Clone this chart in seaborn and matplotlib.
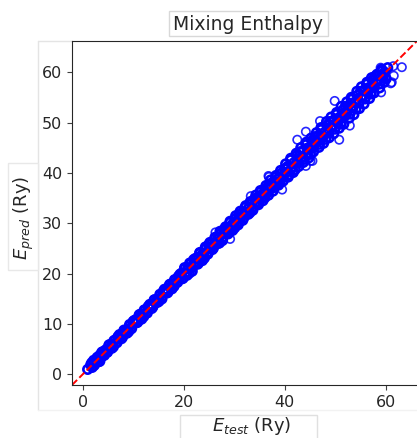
import numpy as np
import pandas as pd
import matplotlib
matplotlib.use("Agg")
import matplotlib.pyplot as plt
import seaborn as sns
from matplotlib.patches import Rectangle
from matplotlib.lines import Line2D

# test vs predicted mixing enthalpy (Ry)
# lower band (x < 20)
x_low = [1.0, 1.8, 2.3, 2.9, 3.4, 3.8, 4.3, 4.9, 5.3, 5.8, 6.2, 6.8, 7.3, 7.7, 8.2, 8.8,
         9.3, 9.7, 10.2, 10.8, 11.3, 11.7, 12.2, 12.8, 13.3, 13.7, 14.2, 14.8, 15.3, 15.7,
         16.2, 16.8, 17.3, 17.7, 18.2, 18.8, 19.3, 19.7]
y_low = [1.0, 2.3, 1.8, 3.4, 2.6, 4.4, 3.8, 4.5, 5.9, 5.2, 6.7, 6.3, 7.9, 7.1, 8.6, 8.2,
         9.9, 9.1, 10.7, 10.3, 11.9, 11.0, 12.8, 12.2, 13.9, 13.1, 14.8, 14.3, 15.9, 15.0,
         16.9, 16.2, 17.9, 17.0, 18.8, 18.3, 19.9, 19.0]

# middle band (20 - 40)
x_mid = [20.2, 20.7, 21.2, 21.7, 22.3, 22.8, 23.2, 23.7, 24.3, 24.8, 25.2, 25.7, 26.3, 26.8,
         27.2, 27.7, 28.3, 28.8, 29.2, 29.7, 30.3, 30.8, 31.2, 31.7, 32.3, 32.8, 33.2, 33.7,
         34.3, 34.8, 35.2, 35.7, 36.3, 36.8, 37.2, 37.7, 38.3, 38.8, 39.2, 39.7,
         21.0, 22.0, 23.0, 24.0, 25.0, 26.0, 27.0, 28.0, 29.0, 30.0, 31.0, 32.0, 33.0, 34.0,
         35.0, 36.0, 37.0, 38.0, 39.0]
y_mid = [21.0, 19.7, 22.1, 20.5, 23.0, 21.9, 24.1, 22.6, 25.3, 23.9, 26.2, 24.8, 27.1, 26.0,
         28.4, 26.6, 29.3, 27.9, 30.4, 28.6, 31.5, 29.7, 32.4, 30.6, 33.5, 31.8, 34.3, 32.6,
         35.6, 33.7, 36.5, 34.5, 37.5, 35.6, 38.6, 36.4, 39.5, 37.6, 40.5, 38.4,
         21.2, 21.8, 23.3, 23.8, 25.1, 25.8, 27.3, 27.9, 29.1, 29.8, 31.2, 31.9, 33.1, 33.8,
         35.3, 35.9, 37.2, 37.8, 39.1]

# upper band (40 - 60)
x_high = [40.2, 40.7, 41.2, 41.7, 42.3, 42.8, 43.2, 43.7, 44.3, 44.8, 45.2, 45.7, 46.3, 46.8,
          47.2, 47.7, 48.3, 48.8, 49.2, 49.7, 50.3, 50.8, 51.2, 51.7, 52.3, 52.8, 53.2, 53.7,
          54.3, 54.8, 55.2, 55.7, 56.3, 56.8, 57.2, 57.7, 58.3, 58.8, 59.2, 59.7,
          40.5, 41.5, 42.5, 43.5, 44.5, 45.5, 46.5, 47.5, 48.5, 49.5, 50.5, 51.5, 52.5, 53.5,
          54.5, 55.5, 56.5, 57.5, 58.5, 59.5]
y_high = [41.8, 39.2, 42.9, 40.1, 43.9, 41.3, 45.0, 42.1, 46.1, 43.0, 46.9, 44.2, 48.0, 45.1,
          49.0, 45.9, 50.2, 47.0, 51.1, 47.8, 52.0, 48.9, 53.2, 49.7, 54.1, 50.9, 55.0, 51.6,
          56.2, 52.8, 57.1, 53.7, 58.0, 54.8, 58.9, 55.9, 59.6, 56.9, 60.2, 58.0,
          40.9, 41.2, 42.8, 43.1, 44.9, 45.3, 46.7, 47.2, 48.8, 49.2, 50.7, 51.3, 52.8, 53.1,
          54.6, 55.2, 56.7, 57.3, 58.6, 59.4]

# dense core of the band
x_core = [1.6, 1.9, 2.2, 2.5, 2.8, 3.1, 3.4, 3.7, 4.0, 4.3,
          4.6, 4.9, 5.2, 5.5, 5.8, 6.1, 6.4, 6.7, 7.0, 7.3,
          7.6, 7.9, 8.2, 8.5, 8.8, 9.1, 9.4, 9.7, 10.0, 10.3,
          10.6, 10.9, 11.2, 11.5, 11.8, 12.1, 12.4, 12.7, 13.0, 13.3,
          13.6, 13.9, 14.2, 14.5, 14.8, 15.1, 15.4, 15.7, 16.0, 16.3,
          16.6, 16.9, 17.2, 17.5, 17.8, 18.1, 18.4, 18.7, 19.0, 19.3,
          19.6, 19.9, 20.2, 20.5, 20.8, 21.1, 21.4, 21.7, 22.0, 22.3,
          22.6, 22.9, 23.2, 23.5, 23.8, 24.1, 24.4, 24.7, 25.0, 25.3,
          25.6, 25.9, 26.2, 26.5, 26.8, 27.1, 27.4, 27.7, 28.0, 28.3,
          28.6, 28.9, 29.2, 29.5, 29.8, 30.1, 30.4, 30.7, 31.0, 31.3,
          31.6, 31.9, 32.2, 32.5, 32.8, 33.1, 33.4, 33.7, 34.0, 34.3,
          34.6, 34.9, 35.2, 35.5, 35.8, 36.1, 36.4, 36.7, 37.0, 37.3,
          37.6, 37.9, 38.2, 38.5, 38.8, 39.1, 39.4, 39.7, 40.0, 40.3,
          40.6, 40.9, 41.2, 41.5, 41.8, 42.1, 42.4, 42.7, 43.0, 43.3,
          43.6, 43.9, 44.2, 44.5, 44.8, 45.1, 45.4, 45.7, 46.0, 46.3,
          46.6, 46.9, 47.2, 47.5, 47.8, 48.1, 48.4, 48.7, 49.0, 49.3,
          49.6, 49.9, 50.2, 50.5, 50.8, 51.1, 51.4, 51.7, 52.0, 52.3,
          52.6, 52.9, 53.2, 53.5, 53.8, 54.1, 54.4, 54.7, 55.0, 55.3,
          55.6, 55.9, 56.2, 56.5, 56.8, 57.1, 57.4, 57.7, 58.0, 58.3,
          58.6, 58.9, 59.2, 59.5, 59.8, 60.1, 60.4]
y_core = [1.9, 1.4, 2.8, 2.3, 2.9, 2.5, 3.8, 3.4, 4.5, 4.2,
          4.9, 4.4, 5.8, 5.3, 5.9, 5.5, 6.8, 6.4, 7.5, 7.2,
          7.9, 7.4, 8.8, 8.3, 8.9, 8.5, 9.8, 9.4, 10.5, 10.2,
          10.9, 10.4, 11.8, 11.3, 11.9, 11.5, 12.8, 12.4, 13.5, 13.2,
          13.9, 13.4, 14.8, 14.3, 14.9, 14.5, 15.8, 15.4, 16.5, 16.2,
          16.9, 16.4, 17.8, 17.3, 17.9, 17.5, 18.8, 18.4, 19.5, 19.2,
          20.1, 19.1, 21.2, 20.2, 21.0, 20.1, 22.0, 21.2, 22.8, 22.1,
          23.1, 22.1, 24.2, 23.2, 24.0, 23.1, 25.0, 24.2, 25.8, 25.1,
          26.1, 25.1, 27.2, 26.2, 27.0, 26.1, 28.0, 27.2, 28.8, 28.1,
          29.1, 28.1, 30.2, 29.2, 30.0, 29.1, 31.0, 30.2, 31.8, 31.1,
          32.1, 31.1, 33.2, 32.2, 33.0, 32.1, 34.0, 33.2, 34.8, 34.1,
          35.1, 34.1, 36.2, 35.2, 36.0, 35.1, 37.0, 36.2, 37.8, 37.1,
          38.1, 37.1, 39.2, 38.2, 39.0, 38.1, 40.0, 39.2, 40.8, 40.1,
          41.3, 39.7, 42.6, 41.0, 42.0, 40.7, 43.4, 42.0, 44.2, 43.1,
          44.3, 42.7, 45.6, 44.0, 45.0, 43.7, 46.4, 45.0, 47.2, 46.1,
          47.3, 45.7, 48.6, 47.0, 48.0, 46.7, 49.4, 48.0, 50.2, 49.1,
          50.3, 48.7, 51.6, 50.0, 51.0, 49.7, 52.4, 51.0, 53.2, 52.1,
          53.3, 51.7, 54.6, 53.0, 54.0, 52.7, 55.4, 54.0, 56.2, 55.1,
          56.3, 54.7, 57.6, 56.0, 57.0, 55.7, 58.4, 57.0, 59.2, 58.1,
          59.3, 57.7, 60.6, 59.0, 60.0, 58.7, 60.9]

# scattered outliers
x_out = [63.2, 61.5, 61.6, 61.2, 61.0, 59.1, 49.9, 42.5, 50.8, 52.9, 36.9, 45.5, 47.0, 44.2,
         59.0, 57.7, 60.0, 36.8, 33.3, 26.3, 29.2, 39.5, 45.1, 44.2]
y_out = [61.0, 61.2, 59.3, 58.0, 57.8, 56.0, 54.3, 46.6, 46.6, 49.4, 39.2, 42.4, 50.3, 48.2,
         60.9, 59.2, 58.9, 39.4, 35.4, 28.2, 26.9, 36.7, 42.4, 41.4]

band = pd.DataFrame({
    "E_test": x_low + x_mid + x_high + x_core,
    "E_pred": y_low + y_mid + y_high + y_core,
})
outliers = pd.DataFrame({"E_test": x_out, "E_pred": y_out})

lims = (-2.1, 66.2)
W, H = 417, 438

sns.set_style("ticks")
fig = plt.figure(figsize=(W / 100, H / 100), dpi=100)


def px_rect(x0, y0, x1, y1, **kw):
    # rectangle given in figure pixels from the top-left corner
    return Rectangle((x0 / W, 1 - y1 / H), (x1 - x0) / W, (y1 - y0) / H,
                     transform=fig.transFigure, **kw)


# faint frame around the plotting area
frame_c = "#e4e4e4"
fig.lines.append(Line2D([38 / W, 38 / W], [1 - 41 / H, 1 - 410 / H], transform=fig.transFigure,
                        color=frame_c, linewidth=1.0, zorder=-3))
fig.lines.append(Line2D([38 / W, 72 / W], [1 - 41 / H, 1 - 41 / H], transform=fig.transFigure,
                        color=frame_c, linewidth=1.0, zorder=-3))
fig.lines.append(Line2D([38 / W, 1], [1 - 410 / H, 1 - 410 / H], transform=fig.transFigure,
                        color="#f2f2f2", linewidth=1.0, zorder=-3))

# label boxes
fig.patches.append(px_rect(169, 11, 328, 36, facecolor="white", edgecolor="#d8d8d8", linewidth=1.0, zorder=-2))
fig.patches.append(px_rect(180, 415, 317, 445, facecolor="white", edgecolor="#e0e0e0", linewidth=1.0, zorder=-2))
fig.patches.append(px_rect(8, 163, 38, 270, facecolor="white", edgecolor="#e8e8e8", linewidth=1.0, zorder=-2))

ax = fig.add_axes([72 / W, 1 - 385 / H, 1 - 72 / W, (385 - 41) / H])
sns.scatterplot(data=band, x="E_test", y="E_pred", ax=ax, marker="o", s=38,
                facecolors="none", edgecolor="blue", linewidth=1.9)
sns.scatterplot(data=outliers, x="E_test", y="E_pred", ax=ax, marker="o", s=36,
                facecolors="none", edgecolor="blue", linewidth=1.2, alpha=0.85)
ax.plot(lims, lims, "r--", linewidth=1.4)

ax.set_xlim(lims)
ax.set_ylim(lims)
ax.set_xticks([0, 20, 40, 60])
ax.set_yticks([0, 10, 20, 30, 40, 50, 60])
ax.tick_params(labelsize=11.5, length=3.5, color=".25")
ax.spines["right"].set_visible(False)
ax.set_xlabel("")
ax.set_ylabel("")

fig.text(248 / W, 1 - 24 / H, "Mixing Enthalpy", fontsize=13.5, ha="center", va="center")
fig.text(252 / W, 1 - 426 / H, r"$E_{test}$ (Ry)", fontsize=13, ha="center", va="center")
fig.text(24 / W, 1 - 218 / H, r"$E_{pred}$ (Ry)", fontsize=13, ha="center", va="center",
         rotation=90)

fig.savefig("out.png", dpi=100)
